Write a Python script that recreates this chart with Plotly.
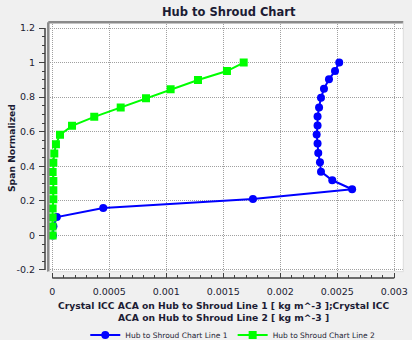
import plotly.graph_objects as go

# ---- data ----
span_line1 = [0.0, 0.053, 0.106, 0.158, 0.21, 0.267, 0.319, 0.369, 0.423, 0.477,
              0.532, 0.584, 0.636, 0.688, 0.74, 0.796, 0.848, 0.903, 0.951, 1.0]
conc_line1 = [0.000005, 0.00001, 0.00004, 0.000447, 0.00176, 0.00263, 0.002456, 0.002357,
              0.002348, 0.002333, 0.002327, 0.002319, 0.002327, 0.002327, 0.00234,
              0.002357, 0.002383, 0.002427, 0.00248, 0.002517]

span_line2 = [0.0, 0.052, 0.103, 0.155, 0.209, 0.261, 0.315, 0.367, 0.421, 0.474,
              0.528, 0.582, 0.634, 0.686, 0.74, 0.793, 0.846, 0.899, 0.951, 1.0]
conc_line2 = [0.000003, 0.000002, 0.000003, 0.000003, 0.000009, 0.000009, 0.000009,
              0.000003, 0.000009, 0.0000175, 0.000032, 0.0000675, 0.000173, 0.000368,
              0.0006, 0.000822, 0.001038, 0.001278, 0.001532, 0.001679]

x_ticks = [0, 0.0005, 0.001, 0.0015, 0.002, 0.0025, 0.003]
x_tick_labels = ["0", "0.0005", "0.001", "0.0015", "0.002", "0.0025", "0.003"]
y_ticks = [-0.2, 0, 0.2, 0.4, 0.6, 0.8, 1.0, 1.2]
y_tick_labels = ["-0.2", "0", "0.2", "0.4", "0.6", "0.8", "1", "1.2"]

names = ["Hub to Shroud Chart Line 1", "Hub to Shroud Chart Line 2"]
title_text = "Hub to Shroud Chart"
x_title = "Crystal ICC ACA on Hub to Shroud Line 1 [ kg m^-3 ];Crystal ICC<br>ACA on Hub to Shroud Line 2 [ kg m^-3 ]"
y_title = "Span Normalized"

W, H = 412, 340
TXT = "#1c1c34"
FONT = "DejaVu Sans"
GRID = "#a0a0a0"

fig = go.Figure()
fig.add_trace(go.Scatter(x=conc_line1, y=span_line1, mode="lines+markers", name=names[0],
                         line=dict(color="#0000ff", width=2),
                         marker=dict(symbol="circle", size=8, color="#0000ff")))
fig.add_trace(go.Scatter(x=conc_line2, y=span_line2, mode="lines+markers", name=names[1],
                         line=dict(color="#00ff00", width=2),
                         marker=dict(symbol="square", size=8, color="#00ff00")))

# plot area geometry (px)
pl, pr, pt, pb = 48.3, 403.3, 22.3, 271.7
xdom = [pl / W, pr / W]
ydom = [1 - pb / H, 1 - pt / H]
xaxis_y = 1 - 278 / H

fig.update_layout(
    width=W, height=H,
    margin=dict(l=0, r=0, t=0, b=0, autoexpand=False),
    paper_bgcolor="#f0f0f0",
    plot_bgcolor="#ffffff",
    showlegend=True,
    legend=dict(orientation="h", x=0.565, xanchor="center", y=5 / H, yanchor="middle",
                font=dict(family=FONT, size=7.5, color=TXT), itemwidth=30,
                bgcolor="rgba(0,0,0,0)"),
    xaxis=dict(domain=xdom, range=[-0.0000351, 0.003079], anchor="free",
               position=xaxis_y,
               tickvals=x_ticks, ticktext=x_tick_labels,
               ticks="inside", ticklen=5, tickcolor="#404040", tickwidth=1,
               minor=dict(dtick=0.0001, tick0=0, ticks="inside", ticklen=3,
                          tickcolor="#404040", showgrid=False),
               showgrid=True, gridcolor=GRID, griddash="1px,1px", gridwidth=1,
               zeroline=False, showline=False, automargin=False,
               tickfont=dict(family=FONT, size=9.5, color=TXT),
               ticklabelstandoff=6),
    yaxis=dict(domain=ydom, range=[-0.21, 1.233], anchor="free",
               position=45 / W,
               tickvals=y_ticks, ticktext=y_tick_labels,
               ticks="outside", ticklen=6, tickcolor="#404040", tickwidth=1,
               minor=dict(dtick=0.05, tick0=0, ticks="outside", ticklen=3,
                          tickcolor="#404040", showgrid=False),
               showgrid=True, gridcolor=GRID, griddash="1px,1px", gridwidth=1,
               zeroline=False, showline=False, automargin=False,
               tickfont=dict(family=FONT, size=9.5, color=TXT),
               ticklabelstandoff=2),
)

# axis lines spanning the tick range, plot frame
fig.add_shape(type="line", xref="x", yref="paper", x0=0, x1=0.003,
              y0=xaxis_y, y1=xaxis_y, line=dict(color="#404040", width=1.5))
fig.add_shape(type="line", xref="paper", yref="y", x0=45 / W, x1=45 / W,
              y0=-0.2, y1=1.2, line=dict(color="#404040", width=1.5))
fig.add_shape(type="line", xref="paper", yref="paper", x0=xdom[0], x1=xdom[0],
              y0=ydom[0], y1=ydom[1], line=dict(color="#8a8a8a", width=2.5))
fig.add_shape(type="line", xref="paper", yref="paper", x0=xdom[0], x1=xdom[1],
              y0=ydom[1], y1=ydom[1], line=dict(color="#8a8a8a", width=2.5))
fig.add_shape(type="line", xref="paper", yref="paper", x0=xdom[1], x1=xdom[1],
              y0=ydom[0], y1=ydom[1], line=dict(color="#dcdcdc", width=1))
fig.add_shape(type="line", xref="paper", yref="paper", x0=xdom[0], x1=xdom[1],
              y0=ydom[0], y1=ydom[0], line=dict(color="#dcdcdc", width=1))

fig.add_annotation(text="<b>" + title_text + "</b>", xref="paper", yref="paper",
                   x=229 / W, y=1 - 12 / H, showarrow=False,
                   font=dict(family=FONT, size=11.5, color=TXT), xanchor="center", yanchor="middle")
fig.add_annotation(text="<b>" + x_title.replace("<br>", "</b><br><b>") + "</b>",
                   xref="paper", yref="paper",
                   x=223 / W, y=1 - 311 / H, showarrow=False,
                   font=dict(family=FONT, size=9.2, color=TXT), xanchor="center", yanchor="middle")
fig.add_annotation(text="<b>" + y_title + "</b>", xref="paper", yref="paper",
                   x=11 / W, y=1 - 148 / H, showarrow=False, textangle=-90,
                   font=dict(family=FONT, size=9.2, color=TXT), xanchor="center", yanchor="middle")

fig.write_html("out.html")
